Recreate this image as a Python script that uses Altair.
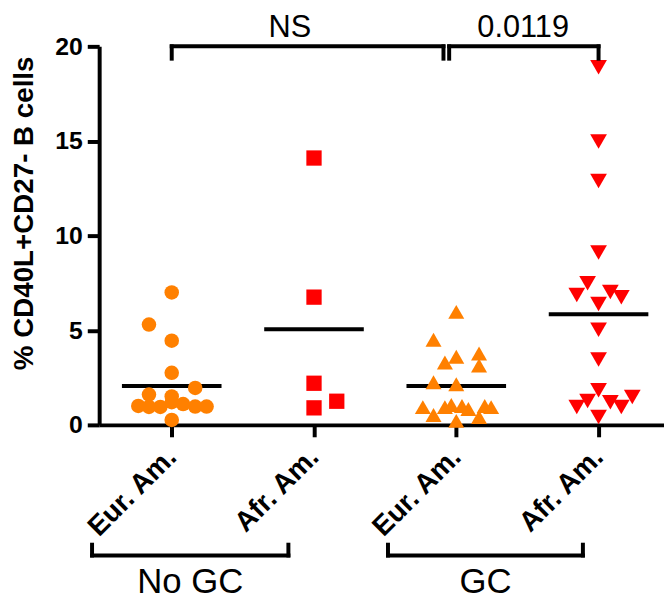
import altair as alt
import pandas as pd

# ---------------- data ----------------
categories = ["Eur. Am.", "Afr. Am.", "Eur. Am.", "Afr. Am."]
group_ids = ["nogc_eur", "nogc_afr", "gc_eur", "gc_afr"]

nogc_eur_values = [7.0, 5.3, 4.45, 2.75, 1.95, 1.6, 1.5, 1.2, 1.0, 0.95, 0.95, 1.1, 0.97, 0.97, 0.26]
nogc_eur_jitter = [0, -0.16, 0, 0, 0.165, -0.16, 0, 0, -0.235, -0.16, -0.08, 0.08, 0.165, 0.245, 0]

nogc_afr_values = [14.1, 6.75, 2.2, 1.25, 0.9]
nogc_afr_jitter = [0, 0, 0, 0.16, 0]

gc_eur_values = [5.97, 4.5, 3.6, 3.3, 3.77, 3.14, 2.25, 2.15,
                 0.94, 0.52, 0.94, 1.05, 1.0, 0.84, 0.42, 1.0, 0.94, 0.21]
gc_eur_jitter = [0, -0.16, 0, -0.08, 0.16, 0.16, -0.16, 0,
                 -0.235, -0.16, -0.08, -0.035, 0.04, 0.085, 0.16, 0.2, 0.245, 0]

gc_afr_values = [18.9, 14.97, 12.88, 9.11, 7.49, 6.86, 7.02, 6.75, 6.39, 5.03, 3.46,
                 1.83, 1.26, 0.94, 1.2, 0.94, 1.47, 0.42]
gc_afr_jitter = [0, 0, 0, 0, -0.077, -0.153, 0.083, 0.16, 0, 0, 0,
                 0, -0.077, -0.153, 0.083, 0.16, 0.237, 0]

group_means = [2.05, 5.05, 2.05, 5.85]

p_labels = ["NS", "0.0119"]
p_label_x = [1.83, 3.47]
p_bracket_start = [1.0, 2.95]
p_bracket_end = [2.91, 4.0]

conditions = ["No GC", "GC"]
condition_label_x = [1.13, 3.205]
condition_bracket_start = [0.44, 2.52]
condition_bracket_end = [1.82, 3.89]

# ---------------- styles ----------------
group_colors = ["#FF8000", "#FF0000", "#FF8000", "#FF0000"]
group_shapes = ["circle", "square", "triangle-up", "triangle-down"]
group_sizes = [215, 285, 280, 290]
FONT = "Liberation Sans"

# ---------------- tables ----------------
all_values = [nogc_eur_values, nogc_afr_values, gc_eur_values, gc_afr_values]
all_jitter = [nogc_eur_jitter, nogc_afr_jitter, gc_eur_jitter, gc_afr_jitter]
rows = []
for i, (vals, jit) in enumerate(zip(all_values, all_jitter)):
    for v, j in zip(vals, jit):
        rows.append({"group": group_ids[i], "pos": i + 1 + j, "value": v})
points_df = pd.DataFrame(rows)

means_df = pd.DataFrame({
    "group": group_ids,
    "x": [i + 1 - 0.35 for i in range(4)],
    "x2": [i + 1 + 0.35 for i in range(4)],
    "mean": group_means,
})

top_y, top_drop = 20.0, 19.35
top_h = pd.DataFrame({"x": p_bracket_start, "x2": p_bracket_end, "y": [top_y] * 2})
top_v = pd.DataFrame({"x": p_bracket_start + p_bracket_end,
                      "y": [top_y] * 4, "y2": [top_drop] * 4})
top_txt = pd.DataFrame({"x": p_label_x, "y": [20.47] * 2, "label": p_labels})

bot_y, bot_rise = -6.9, -6.33
bot_h = pd.DataFrame({"x": condition_bracket_start, "x2": condition_bracket_end, "y": [bot_y] * 2})
bot_v = pd.DataFrame({"x": condition_bracket_start + condition_bracket_end,
                      "y": [bot_y] * 4, "y2": [bot_rise] * 4})
bot_txt = pd.DataFrame({"x": condition_label_x, "y": [-8.9] * 2, "label": conditions})

# ---------------- scales / axes ----------------
label_js = "[" + ",".join("'" + c + "'" for c in categories) + "]"
xscale = alt.Scale(domain=[0.49, 4.46], nice=False, zero=False)
yscale = alt.Scale(domain=[0, 20], nice=False, zero=False)
xaxis = alt.Axis(values=[1, 2, 3, 4], labelExpr=label_js + "[datum.value - 1]",
                 title=None, grid=False, domainWidth=4, tickWidth=4, tickSize=12,
                 domainColor="black", tickColor="black", labelColor="black",
                 labelFont=FONT, labelFontSize=28, labelFontWeight="bold",
                 labelAngle=-45, labelAlign="right", labelBaseline="middle",
                 labelPadding=16)
yaxis = alt.Axis(values=[0, 5, 10, 15, 20], title="% CD40L+CD27- B cells",
                 grid=False, domainWidth=4, tickWidth=4, tickSize=12,
                 domainColor="black", tickColor="black", labelColor="black",
                 labelFont=FONT, labelFontSize=25, labelFontWeight="bold",
                 labelPadding=5, titleFont=FONT, titleFontSize=28,
                 titleFontWeight="bold", titleColor="black",
                 titleX=-75, titleY=168, titleBaseline="middle", titleAngle=270)


def X(f):
    return alt.X(f, type="quantitative", scale=xscale, axis=xaxis)


def Y(f):
    return alt.Y(f, type="quantitative", scale=yscale, axis=yaxis)


points = alt.Chart(points_df).mark_point(filled=True, opacity=1, strokeWidth=0).encode(
    x=X("pos"), y=Y("value"),
    color=alt.Color("group:N", scale=alt.Scale(domain=group_ids, range=group_colors), legend=None),
    shape=alt.Shape("group:N", scale=alt.Scale(domain=group_ids, range=group_shapes), legend=None),
    size=alt.Size("group:N", scale=alt.Scale(domain=group_ids, range=group_sizes), legend=None),
)

means = alt.Chart(means_df).mark_rule(color="black", strokeWidth=4).encode(
    x=X("x"), x2="x2", y=Y("mean"))

rule_style = dict(color="black", strokeWidth=4, strokeCap="square")
th = alt.Chart(top_h).mark_rule(**rule_style).encode(x=X("x"), x2="x2", y=Y("y"))
tv = alt.Chart(top_v).mark_rule(**rule_style).encode(x=X("x"), y=Y("y"), y2="y2")
tt = alt.Chart(top_txt).mark_text(font=FONT, fontSize=31, baseline="alphabetic",
                                  align="center", color="black").encode(
    x=X("x"), y=Y("y"), text="label:N")
bh = alt.Chart(bot_h).mark_rule(**rule_style).encode(x=X("x"), x2="x2", y=Y("y"))
bv = alt.Chart(bot_v).mark_rule(**rule_style).encode(x=X("x"), y=Y("y"), y2="y2")
bt = alt.Chart(bot_txt).mark_text(font=FONT, fontSize=35, baseline="alphabetic",
                                  align="center", color="black").encode(
    x=X("x"), y=Y("y"), text="label:N")

chart = alt.layer(means, points, th, tv, tt, bh, bv, bt).properties(
    width=570, height=382,
    autosize=alt.AutoSizeParams(type="none"),
    padding={"left": 92, "top": 36, "right": 0, "bottom": 174},
    background="white",
).configure_view(stroke=None)

chart.save("out.html", embed_options={"renderer": "svg", "actions": False})
